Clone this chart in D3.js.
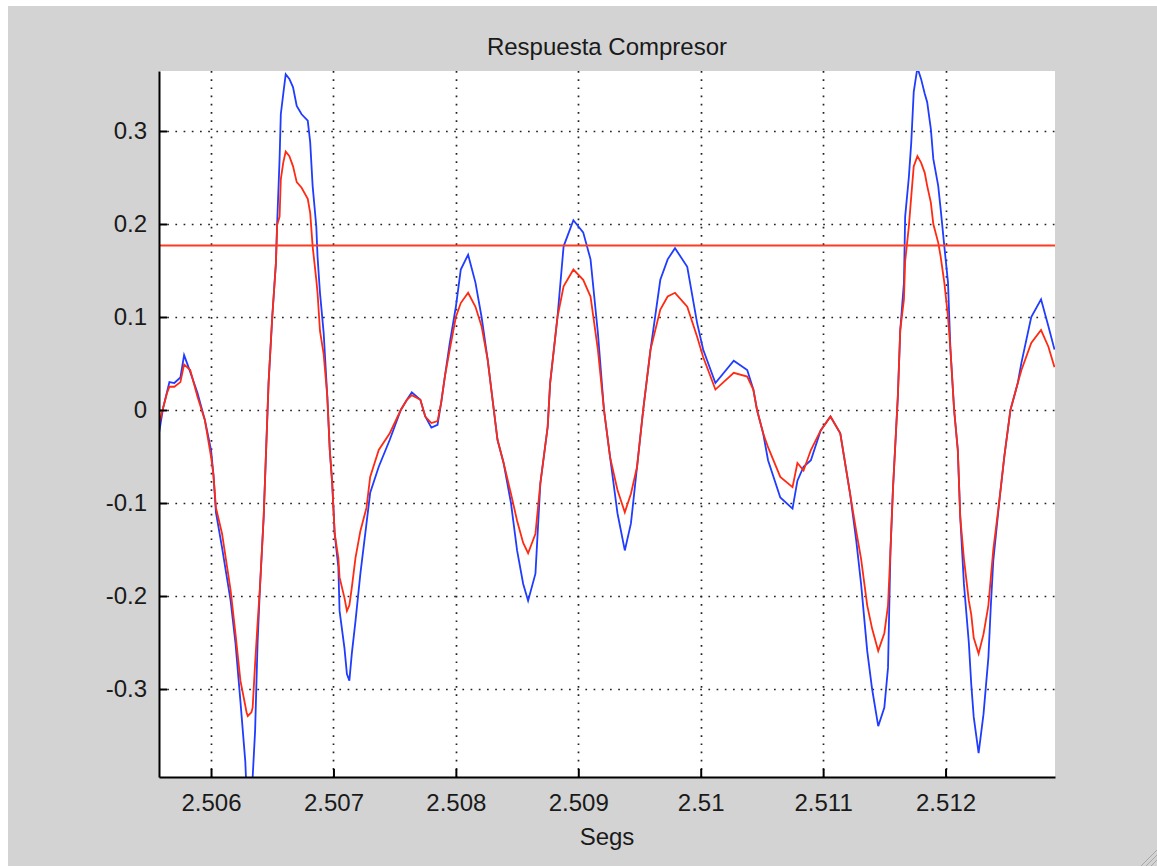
<!DOCTYPE html>
<html>
<head>
<meta charset="utf-8">
<script src="https://cdn.jsdelivr.net/npm/d3@7"></script>
<style>
  html, body { margin: 0; padding: 0; background: #fff; }
  text { font-family: "Liberation Sans", Arial, Helvetica, sans-serif; fill: #1a1a1a; }
</style>
</head>
<body>
<div id="chart"></div>
<script>
"use strict";

var title = "Respuesta Compresor";
var xLabel = "Segs";
var xTicks = [2.506, 2.507, 2.508, 2.509, 2.510, 2.511, 2.512];
var yTicks = [-0.3, -0.2, -0.1, 0, 0.1, 0.2, 0.3];
var umbral = 0.177;

var segs = [
  2.50557, 2.50561, 2.50564, 2.50566, 2.50570, 2.50575, 2.50578, 2.50583, 2.50589, 2.50595,
  2.50600, 2.50602, 2.50604, 2.50609, 2.50616, 2.50620, 2.50624, 2.50628, 2.50629, 2.50630,
  2.50633, 2.50634, 2.50636, 2.50638, 2.50640, 2.50643, 2.50645, 2.50647, 2.50650, 2.50653,
  2.50654, 2.50656, 2.50657, 2.50659, 2.50661, 2.50664, 2.50667, 2.50670, 2.50674, 2.50679,
  2.50681, 2.50683, 2.50686, 2.50687, 2.50689, 2.50692, 2.50695, 2.50697, 2.50699, 2.50701,
  2.50704, 2.50705, 2.50709, 2.50711, 2.50713, 2.50715, 2.50718, 2.50722, 2.50727, 2.50730,
  2.50737, 2.50746, 2.50755, 2.50760, 2.50764, 2.50771, 2.50775, 2.50780, 2.50785, 2.50788,
  2.50791, 2.50795, 2.50800, 2.50804, 2.50810, 2.50816, 2.50821, 2.50826, 2.50831, 2.50834,
  2.50839, 2.50845, 2.50850, 2.50855, 2.50859, 2.50865, 2.50869, 2.50875, 2.50877, 2.50883,
  2.50888, 2.50896, 2.50904, 2.50910, 2.50916, 2.50921, 2.50926, 2.50932, 2.50938, 2.50943,
  2.50948, 2.50953, 2.50959, 2.50967, 2.50973, 2.50979, 2.50989, 2.50997, 2.51002, 2.51012,
  2.51027, 2.51038, 2.51043, 2.51046, 2.51051, 2.51055, 2.51065, 2.51075, 2.51079, 2.51084,
  2.51090, 2.51098, 2.51106, 2.51114, 2.51122, 2.51127, 2.51131, 2.51136, 2.51140, 2.51145,
  2.51150, 2.51153, 2.51155, 2.51157, 2.51161, 2.51163, 2.51166, 2.51167, 2.51170, 2.51172,
  2.51174, 2.51177, 2.51180, 2.51183, 2.51185, 2.51188, 2.51190, 2.51194, 2.51196, 2.51199,
  2.51202, 2.51204, 2.51207, 2.51210, 2.51212, 2.51215, 2.51219, 2.51221, 2.51223, 2.51227,
  2.51231, 2.51235, 2.51237, 2.51239, 2.51244, 2.51248, 2.51253, 2.51259, 2.51262, 2.51270,
  2.51278, 2.51284, 2.51289
];

// entrada (azul)
var entrada = [
  -0.029, 0.003, 0.019, 0.030, 0.029, 0.035, 0.059, 0.041, 0.018, -0.011,
  -0.043, -0.070, -0.110, -0.148, -0.205, -0.251, -0.313, -0.378, -0.410, -0.415,
  -0.410, -0.395, -0.345, -0.251, -0.190, -0.115, -0.043, 0.029, 0.100, 0.158,
  0.200, 0.270, 0.318, 0.340, 0.361, 0.356, 0.347, 0.327, 0.318, 0.311,
  0.288, 0.241, 0.197, 0.165, 0.126, 0.083, 0.014, -0.043, -0.079, -0.133,
  -0.169, -0.216, -0.256, -0.284, -0.291, -0.262, -0.227, -0.176, -0.122, -0.089,
  -0.061, -0.032, 0.000, 0.011, 0.019, 0.011, -0.007, -0.019, -0.016, 0.008,
  0.036, 0.072, 0.111, 0.151, 0.167, 0.137, 0.100, 0.054, 0.000, -0.032,
  -0.057, -0.100, -0.151, -0.187, -0.205, -0.176, -0.079, -0.018, 0.029, 0.100,
  0.176, 0.204, 0.191, 0.162, 0.083, 0.000, -0.051, -0.111, -0.151, -0.122,
  -0.061, 0.000, 0.065, 0.140, 0.162, 0.174, 0.154, 0.094, 0.065, 0.029,
  0.053, 0.043, 0.022, 0.000, -0.025, -0.054, -0.094, -0.106, -0.076, -0.061,
  -0.054, -0.022, -0.007, -0.025, -0.090, -0.140, -0.187, -0.259, -0.300, -0.340,
  -0.320, -0.277, -0.151, -0.086, 0.014, 0.086, 0.137, 0.208, 0.250, 0.288,
  0.342, 0.368, 0.356, 0.340, 0.331, 0.302, 0.270, 0.241, 0.216, 0.176,
  0.137, 0.065, 0.000, -0.043, -0.115, -0.187, -0.250, -0.295, -0.330, -0.369,
  -0.327, -0.266, -0.210, -0.162, -0.097, -0.050, 0.000, 0.029, 0.051, 0.100,
  0.119, 0.090, 0.065
];

// salida comprimida (rojo)
var salida = [
  -0.018, 0.003, 0.018, 0.025, 0.025, 0.030, 0.049, 0.043, 0.014, -0.011,
  -0.050, -0.070, -0.105, -0.133, -0.194, -0.241, -0.291, -0.318, -0.325, -0.329,
  -0.325, -0.320, -0.273, -0.230, -0.190, -0.115, -0.043, 0.029, 0.100, 0.158,
  0.199, 0.208, 0.248, 0.266, 0.278, 0.273, 0.262, 0.245, 0.239, 0.227,
  0.212, 0.176, 0.140, 0.126, 0.085, 0.060, 0.014, -0.043, -0.079, -0.133,
  -0.159, -0.180, -0.202, -0.216, -0.210, -0.191, -0.159, -0.130, -0.105, -0.072,
  -0.043, -0.025, 0.000, 0.011, 0.016, 0.011, -0.007, -0.014, -0.012, 0.008,
  0.036, 0.065, 0.100, 0.115, 0.126, 0.111, 0.090, 0.054, 0.000, -0.032,
  -0.057, -0.090, -0.119, -0.143, -0.154, -0.133, -0.079, -0.018, 0.029, 0.100,
  0.133, 0.151, 0.140, 0.122, 0.065, 0.000, -0.051, -0.086, -0.110, -0.090,
  -0.061, 0.000, 0.065, 0.108, 0.122, 0.126, 0.111, 0.079, 0.057, 0.022,
  0.040, 0.036, 0.022, 0.000, -0.025, -0.040, -0.072, -0.083, -0.057, -0.065,
  -0.043, -0.022, -0.007, -0.025, -0.090, -0.130, -0.160, -0.210, -0.235, -0.259,
  -0.240, -0.210, -0.151, -0.086, 0.014, 0.086, 0.119, 0.160, 0.197, 0.230,
  0.262, 0.273, 0.266, 0.255, 0.241, 0.223, 0.200, 0.180, 0.165, 0.137,
  0.100, 0.065, 0.000, -0.043, -0.115, -0.160, -0.205, -0.220, -0.245, -0.262,
  -0.241, -0.210, -0.180, -0.150, -0.097, -0.050, 0.000, 0.029, 0.043, 0.072,
  0.086, 0.068, 0.046
];

// etiquetas con guion ascii como en matlab
function fmt(spec) {
  var f = d3.format(spec);
  return function(d) { return f(d).replace("\u2212", "-"); };
}

function render() {
  var width = 1157,
    height = 866,
    left = 159,
    right = 1055,
    top = 71,
    bottom = 777;

  var svg = d3.select("#chart").append("svg")
    .attr("width", width)
    .attr("height", height);

  // fondo gris de la figura
  svg.append("rect")
    .attr("x", 8).attr("y", 6)
    .attr("width", width - 8).attr("height", height - 6)
    .style("fill", "#d3d3d3");

  svg.append("rect")
    .attr("x", left).attr("y", top)
    .attr("width", right - left).attr("height", bottom - top)
    .style("fill", "#fff");

  var x = d3.scaleLinear()
    .domain([2.505575, 2.512894])
    .range([left, right]);
  var y = d3.scaleLinear()
    .domain([-0.3946, 0.3645])
    .range([bottom, top]);

  svg.append("defs").append("clipPath")
    .attr("id", "plotclip")
    .append("rect")
    .attr("x", left).attr("y", top)
    .attr("width", right - left).attr("height", bottom - top);

  // rejilla punteada
  var grid = svg.append("g").attr("class", "grid");
  grid.selectAll(".vgrid")
    .data(xTicks)
    .enter().append("line")
    .attr("x1", function(d) { return Math.round(x(d)) + 0.5; })
    .attr("x2", function(d) { return Math.round(x(d)) + 0.5; })
    .attr("y1", top)
    .attr("y2", bottom)
    .style("stroke", "#222")
    .style("stroke-width", 1.7)
    .style("stroke-dasharray", "1.7,6.5");
  grid.selectAll(".hgrid")
    .data(yTicks)
    .enter().append("line")
    .attr("y1", function(d) { return Math.round(y(d)) + 0.5; })
    .attr("y2", function(d) { return Math.round(y(d)) + 0.5; })
    .attr("x1", left)
    .attr("x2", right)
    .style("stroke", "#222")
    .style("stroke-width", 1.7)
    .style("stroke-dasharray", "1.7,6.5");

  var line = d3.line()
    .x(function(d) { return x(d[0]); })
    .y(function(d) { return y(d[1]); });

  var plot = svg.append("g").attr("clip-path", "url(#plotclip)");

  plot.append("path")
    .datum(segs.map(function(t, i) { return [t, entrada[i]]; }))
    .attr("d", line)
    .style("fill", "none")
    .style("stroke", "#1f3cff")
    .style("stroke-width", 1.8);

  plot.append("path")
    .datum(segs.map(function(t, i) { return [t, salida[i]]; }))
    .attr("d", line)
    .style("fill", "none")
    .style("stroke", "#ff2a12")
    .style("stroke-width", 1.8);

  plot.append("line")
    .attr("x1", left).attr("x2", right)
    .attr("y1", y(umbral)).attr("y2", y(umbral))
    .style("stroke", "#ff3a22")
    .style("stroke-width", 2);

  // ejes
  var xAxis = d3.axisBottom(x)
    .tickValues(xTicks)
    .tickSizeInner(-8)
    .tickSizeOuter(0)
    .tickPadding(16)
    .tickFormat(fmt(".4~f"));
  var yAxis = d3.axisLeft(y)
    .tickValues(yTicks)
    .tickSizeInner(-8)
    .tickSizeOuter(0)
    .tickPadding(12)
    .tickFormat(fmt(".1~f"));

  var gx = svg.append("g")
    .attr("transform", "translate(0," + bottom + ")")
    .call(xAxis);
  var gy = svg.append("g")
    .attr("transform", "translate(" + left + ",0)")
    .call(yAxis);

  [gx, gy].forEach(function(g) {
    g.select(".domain").style("stroke", "#000").style("stroke-width", 2);
    g.selectAll(".tick line").style("stroke", "#000").style("stroke-width", 2);
    g.selectAll(".tick text")
      .attr("font-size", 24)
      .style("font-family", "'Liberation Sans', Arial, sans-serif")
      .style("fill", "#1a1a1a");
  });
  gx.selectAll(".tick text").attr("dy", "0.75em");

  svg.append("text")
    .attr("x", (left + right) / 2)
    .attr("y", 55)
    .attr("text-anchor", "middle")
    .attr("font-size", 24)
    .text(title);

  svg.append("text")
    .attr("x", (left + right) / 2)
    .attr("y", 845)
    .attr("text-anchor", "middle")
    .attr("font-size", 24)
    .text(xLabel);

  // marca de redimensionar en la esquina
  var grip = svg.append("g").style("stroke", "#a8a8a8").style("stroke-width", 1);
  [6, 11, 16].forEach(function(o) {
    grip.append("line")
      .attr("x1", width - o).attr("y1", height)
      .attr("x2", width).attr("y2", height - o);
  });
}

render();
</script>
</body>
</html>
